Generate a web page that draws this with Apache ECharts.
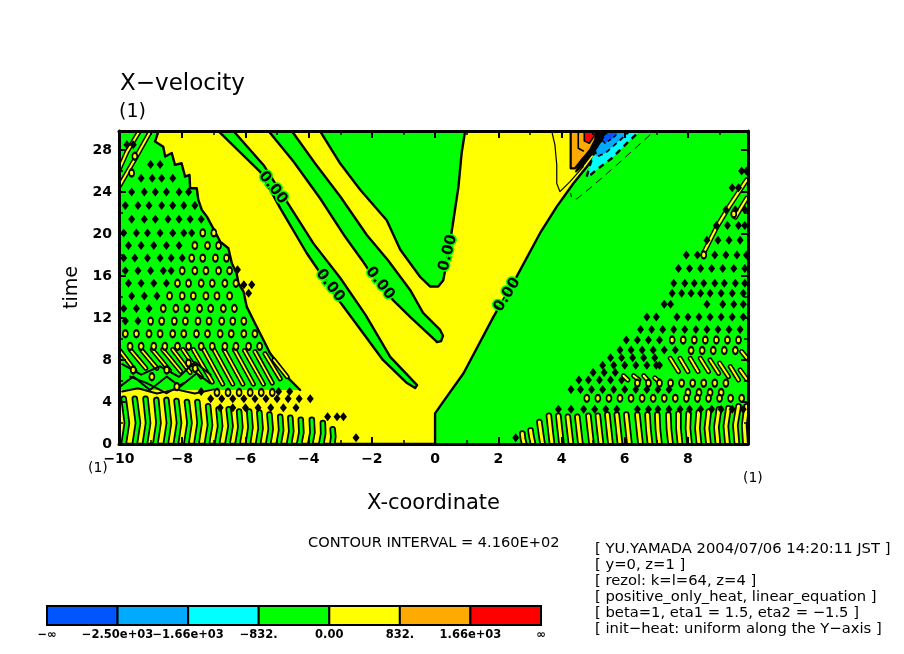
<!DOCTYPE html>
<html><head><meta charset="utf-8"><style>html,body{margin:0;padding:0;background:#fff}#c{width:904px;height:654px}</style>
<script src="https://cdn.jsdelivr.net/npm/echarts@6/dist/echarts.min.js"></script></head><body><div id="c"></div><script>
const XMIN=-10,XMAX=9.9,YMIN=0,YMAX=29.8;
const plotArea=[[XMIN,YMIN],[XMAX,YMIN],[XMAX,YMAX],[XMIN,YMAX]];
const yellowMain=[[-10,0],[0,0],[0,2.92],[.26,4.03],[.9,6.73],[1.85,12.13],[2.58,15.94],[3.32,20.07],[3.85,22.6],[4.38,24.83],[4.8,26.4],[5.1,27.6],[5.3,29.8],[-10,29.8]];
const centerPatch=[[.95,29.8],[.84,27.7],[.74,24.5],[.58,21.3],[.42,18.2],[.26,15.6],[.1,15],[-.16,15],[-.47,15.9],[-1.1,18.5],[-1.53,21.3],[-2.37,24.2],[-3,26.7],[-3.64,29.8]];
const band2=[[-4.53,29.8],[-3.8,26.73],[-3,23.56],[-2.16,19.9],[-1.49,17.5],[-.79,14.67],[-.38,12.48],[.16,10.86],[.25,10.3],[.19,9.8],[.06,9.7],[0,9.9],[-.79,12.1],[-1.33,13.7],[-2,16.1],[-2.31,17.5],[-2.85,19.75],[-3.64,23.4],[-4.48,26.9],[-5.27,29.8]];
const band1=[[-6.38,29.8],[-5.43,26.57],[-4.69,23.08],[-3.85,19.1],[-3,15.8],[-2.2,12.3],[-1.42,8.3],[-.57,5.6],[-.63,5.33],[-.89,5.8],[-1.65,8],[-2.28,10.57],[-3,13.5],[-4.06,18.16],[-4.9,22.45],[-5.54,25.94],[-6.86,29.8]];
const triangleEdge=[[-8.75,29.8],[-8.86,28.8],[-8.6,28.3],[-8.54,27.37],[-8.33,27.7],[-8.23,26.57],[-8.02,26.73],[-7.91,25.46],[-7.77,25.62],[-7.75,24.35],[-7.54,24.35],[-7.49,23.24],[-7.38,22.29],[-7.22,21.65],[-6.96,20.2],[-6.8,19.27],[-6.54,18.64],[-6.43,17.2],[-6.28,16.26],[-6.22,15.3],[-6.06,14.5],[-5.96,13.08],[-5.7,11.5],[-5.43,9.9],[-5.22,8.64],[-4.9,7.37],[-4.59,6.1],[-4.27,5.14]];
const triangleClose=[[-10,5.14],[-10,29.8]];
const orangeRegion=[[4.29,29.8],[4.29,26.25],[4.43,26.25],[4.64,27.05],[4.9,27.84],[5.09,28.8],[5.17,29.8]];
const redRegion=[[4.72,29.8],[4.72,28.86],[4.88,28.63],[5.06,29.43],[5.09,29.8]];
const cyanRegion=[[4.8,25.46],[4.9,26.57],[5.06,28],[5.48,29.8],[6.48,29.8],[6.12,28.79],[5.59,27.2],[5.17,26.25],[4.85,25.46]];
const midBlueRegion=[[5.06,28],[5.27,28.95],[5.48,29.8],[6.17,29.8],[5.8,28.79],[5.38,27.68],[5.11,27.36]];
const blueRegion=[[5.27,28.95],[5.48,29.8],[5.85,29.8],[5.64,29.17],[5.38,28.63]];
const blackKnot=[[5.11,29.8],[5.38,29.8],[5.27,28.95],[5.06,28],[4.69,26.57],[4.46,25.94],[4.64,27.05],[4.9,28],[5.06,28.95]];
const orangeInnerLine=[[4.53,29.8],[4.53,28.16],[4.69,27.9]];
const thinYellowContour=[[3.69,29.8],[3.79,28.5],[3.85,26.57],[3.85,24.8],[3.95,24.03],[4.27,24.98],[4.69,26.41]];
const thinDashedContour=[[6.8,29.43],[5.75,26.57],[4.9,24.35],[4.48,23.33],[4.32,23.4],[4.29,23.87]];
const bottomLeftStripes=[
[[-9.85,0],[-9.75,2],[-9.85,4.3]],[[-9.5,0],[-9.4,2],[-9.5,4.3]],[[-9.18,0],[-9.08,2],[-9.16,4.3]],[[-8.85,0],[-8.75,2],[-8.82,4.2]],[[-8.52,0],[-8.42,2],[-8.5,4.2]],[[-8.2,0],[-8.1,2],[-8.18,4.1]],[[-7.87,0],[-7.77,2],[-7.85,4]],[[-7.55,0],[-7.45,2],[-7.52,4]],[[-7.22,0],[-7.12,1.8],[-7.18,3.6]],[[-6.9,0],[-6.8,1.7],[-6.85,3.3]],[[-6.57,0],[-6.47,1.7],[-6.53,3.3]],[[-6.25,0],[-6.16,1.6],[-6.2,3.1]],[[-5.92,0],[-5.84,1.6],[-5.88,3.1]],[[-5.6,0],[-5.52,1.5],[-5.56,3]],[[-5.28,0],[-5.2,1.4],[-5.24,2.8]],[[-4.95,0],[-4.87,1.3],[-4.9,2.6]],[[-4.62,0],[-4.55,1.2],[-4.58,2.5]],[[-4.3,0],[-4.23,1.1],[-4.25,2.3]],[[-3.95,0],[-3.88,1.1],[-3.9,2.3]],[[-3.6,0],[-3.54,1],[-3.55,2]],[[-3.25,0],[-3.22,.7],[-3.24,1.4]]];
const bottomRightStripes=[
[[2.82,0],[2.78,.5],[2.76,1]],[[3.1,0],[3.05,.7],[3.02,1.3]],[[3.4,0],[3.35,1],[3.3,2.1]],[[3.7,0],[3.65,1.3],[3.6,2.7]],[[4,0],[3.95,1.3],[3.9,2.7]],[[4.3,0],[4.25,1.3],[4.2,2.6]],[[4.6,0],[4.55,1.3],[4.5,2.6]],[[4.95,0],[4.9,1.3],[4.85,2.7]],[[5.25,0],[5.2,1.3],[5.15,2.7]],[[5.55,0],[5.5,1.4],[5.45,2.8]],[[5.85,0],[5.8,1.4],[5.75,2.8]],[[6.15,0],[6.1,1.4],[6.05,2.8]],[[6.5,0],[6.45,1.4],[6.4,2.8]],[[6.8,0],[6.75,1.4],[6.72,2.8]],[[7.1,0],[7.05,1.4],[7.03,2.8]],[[7.45,0],[7.4,1.4],[7.38,2.8]],[[7.75,0],[7.7,1.5],[7.7,2.9]],[[8.05,0],[8,1.5],[8.02,2.9]],[[8.35,0],[8.3,1.5],[8.34,3]],[[8.65,0],[8.6,1.5],[8.66,3.1]],[[8.95,0],[8.9,1.6],[8.98,3.3]],[[9.25,0],[9.2,1.7],[9.28,3.4]],[[9.55,0],[9.5,1.8],[9.6,3.6]],[[9.82,0],[9.78,1.8],[9.86,3.6]]];
const leftDiagStripes=[
[[-10,9],[-9.5,7]],[[-9.65,9],[-9.15,7.2]],[[-9.3,9],[-8.8,7.2]],[[-8.95,9],[-8.4,7]],[[-8.62,9],[-8.05,6.9]],[[-8.3,9],[-7.75,6.8]],[[-7.98,9],[-7.4,6.4]],[[-7.65,9],[-7.05,5.9]],[[-7.32,9],[-6.72,5.7]],[[-7,9],[-6.4,5.7]],[[-6.68,9],[-6.08,5.7]],[[-6.35,9],[-5.75,5.7]],[[-6.03,8.9],[-5.43,5.7]],[[-5.7,8.8],[-5.15,5.8]],[[-5.38,8.6],[-4.9,6.2]],[[-5.1,8],[-4.68,6.4]]];
const rightDiagLenses=[
[[7.44,8.16],[7.7,6.9]],[[7.75,8.16],[8,6.9]],[[8.07,8.16],[8.32,6.9]],[[8.39,8.16],[8.65,6.9]],[[8.7,8],[8.97,6.73]],[[9,7.7],[9.28,6.42]],[[9.34,7.37],[9.6,6.1]],[[9.65,7.05],[9.85,6.2]],[[5.96,6.5],[6.1,6.1]],[[6.28,6.5],[6.45,6.1]],[[6.6,6.5],[6.75,6]],[[6.95,6.3],[7.1,5.9]],[[9.7,8.8],[9.86,8.2]]];
const cornerStreaks=[[[-10,24.5],[-9.5,27.1],[-9,29.8]],[[-10,26.1],[-9.75,27.8],[-9.35,29.8]]];
const rightStreaks=[[[9.86,25.15],[9.3,22.6],[8.9,20.6],[8.49,18.16]],[[9.86,23.4],[9.5,21.6]]];
const scribbles=[[[-9.97,5.46],[-9.55,6.42],[-9.02,5.15],[-8.49,6.42],[-8.07,5.46],[-7.54,6.73],[-7.12,5.8]],[[-9.65,6.42],[-9.12,5.8],[-8.49,4.83],[-7.96,5.8]],[[-9.9,7.6],[-9.3,6.6],[-8.7,7.4],[-8.1,6.4],[-7.6,7.8],[-7.1,6.6]],[[-9.9,5],[-9.4,5.3],[-8.8,4.8],[-8.2,5.2],[-7.6,4.8],[-7,5.2]]];
const ringRows=[
[9.3,[-9.65,-9.3,-8.9,-8.55,-8.15,-7.8,-7.4,-7.05,-6.65,-6.3,-5.9,-5.55]],
[10.5,[-9.8,-9.45,-9.05,-8.7,-8.3,-7.95,-7.55,-7.2,-6.8,-6.45,-6.05,-5.7]],
[11.7,[-9,-8.65,-8.25,-7.9,-7.5,-7.15,-6.75,-6.4,-6.05]],
[12.9,[-8.6,-8.2,-7.85,-7.45,-7.1,-6.7,-6.35]],
[14.1,[-8.4,-8,-7.65,-7.25,-6.9,-6.5]],
[15.3,[-8.15,-7.8,-7.4,-7.05,-6.65,-6.3]],
[16.5,[-8,-7.6,-7.25,-6.85,-6.5]],
[17.7,[-7.7,-7.35,-6.95,-6.6]],
[18.9,[-7.6,-7.2,-6.85]],
[20.1,[-7.35,-7]],
[25.8,[-9.6]],[27.4,[-9.5]],
[7.05,[-9.55,-8.49]],[6.4,[-8.96]],[7.7,[-7.8]],[7.2,[-7.59]],[5.46,[-8.17]],
[4.9,[-6.9,-6.55,-6.2,-5.85,-5.5,-5.15,8.0,8.35,8.7,9.05]],
[4.35,[4.8,5.15,5.5,5.85,6.2,6.55,6.9,7.25,7.6,7.95,8.3,8.65,9,9.35,9.7]],
[5.8,[6.4,6.75,7.1,7.45,7.8,8.15,8.5,8.85,9.2]],
[9.9,[7.5,7.85,8.2,8.55,8.9,9.25,9.6]],
[8.9,[8.1,8.45,8.8,9.15,9.5]],
[18,[8.5]],[21.9,[9.45]]];
const solidRows=[
[11.7,[-9.8,-9.4]],[12.9,[-9.85,-9.45,-9.05]],[14.1,[-9.6,-9.2,-8.8]],[15.3,[-9.7,-9.3,-8.9,-8.5]],[14.35,[-5.9]],[15.15,[-6.05,-5.8]],[16.6,[-6.25]],
[16.5,[-9.8,-9.4,-9,-8.6,-8.35]],[17.7,[-9.85,-9.5,-9.1,-8.7,-8.35,-8]],[18.9,[-9.7,-9.3,-8.9,-8.5,-8.1]],[20.1,[-9.85,-9.45,-9.1,-8.7,-8.3,-7.95,-7.7]],[21.4,[-9.6,-9.2,-8.85,-8.45,-8.1,-7.75,-7.4]],[22.7,[-9.8,-9.4,-9.05,-8.65,-8.3,-7.95,-7.6]],[24,[-9.6,-9.2,-8.85,-8.5,-8.1,-7.8]],[25.3,[-9.3,-8.95,-8.65,-8.3]],[26.6,[-9,-8.7]],[28.5,[-9.75,-9.55]],
[5,[-7.4,-4.6,-4.95]],[4.3,[-7.1,-6.75,-6.4,-6.05,-5.7,-5.35,-5,-4.65,-4.3,-3.95]],[3.45,[-6.8,-6.4,-6,-5.6,-5.2,-4.8,-4.4]],[2.6,[-3.4,-3.1,-2.9]],[.6,[-2.5,2.55]],
[3.3,[6.4,6.75,7.05,7.4,7.75,8.05,8.4,8.75,9.05,9.4,9.75,3.9,4.3,4.7,5.05,5.4,5.75]],
[5.2,[4.3,4.6,4.95,5.3,5.65,6,6.35,6.7,7.05,7.4]],[6.1,[4.55,4.85,5.2,5.55,5.9]],[6.8,[5.0,5.35,5.7]],[7.5,[5.3,5.65,6,6.35,6.7,7,7.1]],[8.2,[5.55,5.9,6.25,6.6,6.95]],
[8.95,[5.85,6.2,6.55,6.9,7.25,7.6]],[9.9,[6.05,6.4,6.75,7.1]],[10.9,[6.5,6.85,7.2,7.55,7.9,8.25,8.6,8.95,9.3,9.65]],[12.1,[6.7,7,7.65,8,8.35,8.7,9.05,9.4,9.75]],[13.3,[7.25,7.45,8.6,9.1,9.45,9.75]],[14.35,[7.5,7.8,8.1,8.4,8.7,9.05,9.4,9.75]],[15.3,[7.55,7.9,8.2,8.5,8.85,9.15,9.5,9.8]],[16.7,[7.7,8.05,8.4,8.75,9.1,9.45,9.8]],[18,[7.95,8.3,8.85,9.2,9.55,9.85]],[19.4,[8.6,8.95,9.3,9.65]],[20.8,[8.9,9.25,9.6,9.8]],[22.3,[9.2,9.5,9.8]],[24.4,[9.4,9.6]],[26,[9.7,9.85]]];
const contourLabels=[[-5.13,24.4,-52],[-3.32,15.1,-52],[-1.74,15.3,-52],[.41,18.2,76],[2.28,14.2,58]];
const contourLabelText="0.00";
const colorbarColors=["#0055ff","#00aaff","#00ffff","#00ff00","#ffff00","#ffaa00","#ff0000"];
const colorbarLabels=["−∞","−2.50e+03","−1.66e+03","−832.","0.00","832.","1.66e+03","∞"];
const infoLines=["[ YU.YAMADA 2004/07/06 14:20:11 JST ]","[ y=0, z=1 ]","[ rezol: k=l=64, z=4 ]","[ positive_only_heat, linear_equation ]","[ beta=1, eta1 = 1.5, eta2 = −1.5 ]","[ init−heat: uniform along the Y−axis ]"];
const FONT='"DejaVu Sans"';
function fillS(regions,fill,stroke,lw,dash){return{type:'custom',coordinateSystem:'cartesian2d',clip:true,silent:true,data:regions.map((_,i)=>[i]),
 renderItem(p,api){return{type:'polygon',shape:{points:regions[p.dataIndex].map(q=>api.coord(q))},style:{fill,stroke:stroke||null,lineWidth:lw||0,lineDash:dash||null,lineJoin:'round'}};}};}
function lineS(lines,stroke,lw,dash,cap){return{type:'custom',coordinateSystem:'cartesian2d',clip:true,silent:true,data:lines.map((_,i)=>[i]),
 renderItem(p,api){return{type:'polyline',shape:{points:lines[p.dataIndex].map(q=>api.coord(q))},style:{fill:null,stroke,lineWidth:lw,lineDash:dash||null,lineCap:cap||'round',lineJoin:'round'}};}};}
function rows(r){const o=[];r.forEach(([y,xs])=>xs.forEach(x=>o.push([x,y])));return o;}
const chart=echarts.init(document.getElementById('c'),null,{renderer:'canvas'});
const axisCommon={axisLine:{onZero:false,lineStyle:{color:'#000',width:3}},axisTick:{inside:true,length:7,lineStyle:{color:'#000',width:2}},minorTick:{show:true,splitNumber:2,length:4,lineStyle:{color:'#000',width:1.5}},splitLine:{show:false},minorSplitLine:{show:false},z:10};
const labelStyle={color:'#000',fontFamily:FONT,fontSize:14,fontWeight:'bold'};
const series=[
 fillS([plotArea],'#00ff00'),
 fillS([yellowMain],'#ffff00','#000',2.4),
 fillS([centerPatch,band2,band1],'#00ff00','#000',2.4),
 fillS([triangleEdge.concat(triangleClose)],'#00ff00'),
 lineS([triangleEdge],'#000',2.4),
 lineS([thinYellowContour],'#000',1.2),
 fillS([orangeRegion],'#ffaa00','#000',2.2),
 lineS([orangeInnerLine],'#000',1.6),
 fillS([redRegion],'#ff0000','#000',1.6),
 fillS([cyanRegion],'#00ffff','#000',2.4,[6,5]),
 fillS([midBlueRegion],'#00aaff','#000',1.8,[5,4]),
 fillS([blueRegion],'#0055ff','#000',1.5,[4,3]),
 fillS([blackKnot],'#000','#000',2),
 lineS([thinDashedContour],'#000',1,[7,6]),
 lineS(bottomLeftStripes,'#000',6.5),
 lineS(bottomLeftStripes,'#00ff00',3),
 lineS(bottomRightStripes,'#000',6.5),
 lineS(bottomRightStripes,'#ffff00',3),
 lineS(leftDiagStripes,'#000',5),
 lineS(leftDiagStripes,'#ffff00',1.8),
 lineS(rightDiagLenses,'#000',5),
 lineS(rightDiagLenses,'#ffff00',2),
 lineS(cornerStreaks,'#000',5),
 lineS(cornerStreaks,'#ffff00',2),
 lineS(rightStreaks,'#000',5),
 lineS(rightStreaks,'#ffff00',2.2),
 lineS(scribbles,'#000',2),
 {type:'scatter',silent:true,symbol:'diamond',symbolSize:[7,9],data:rows(solidRows),itemStyle:{color:'#000',opacity:1}},
 {type:'scatter',silent:true,symbol:'circle',symbolSize:[5,7],data:rows(ringRows),itemStyle:{color:'#ffff00',borderColor:'#000',borderWidth:2,opacity:1}},
 {type:'custom',coordinateSystem:'cartesian2d',silent:true,data:contourLabels.map((_,i)=>[i]),renderItem(p,api){const l=contourLabels[p.dataIndex],c=api.coord([l[0],l[1]]);
   return{type:'text',x:c[0],y:c[1],rotation:l[2]*Math.PI/180,style:{text:contourLabelText,font:'bold 15px '+FONT,fill:'#000',stroke:'#00ff00',lineWidth:3,strokeFirst:true,align:'center',verticalAlign:'middle'}};}},
 {type:'custom',coordinateSystem:'cartesian2d',xAxisIndex:2,yAxisIndex:2,silent:true,data:colorbarColors.map((_,i)=>[i]),renderItem(p,api){const a=api.coord([p.dataIndex,1]),b=api.coord([p.dataIndex+1,0]);
   return{type:'rect',shape:{x:a[0],y:a[1],width:b[0]-a[0],height:b[1]-a[1]},style:{fill:colorbarColors[p.dataIndex],stroke:'#000',lineWidth:2}};}}
];
const text=(t,x,y,size,extra)=>Object.assign({type:'text',x,y,style:{text:t,font:size+'px '+FONT,fill:'#000'}},extra||{});
chart.setOption({animation:false,backgroundColor:'#fff',
 title:{text:'X−velocity',left:115,top:68,textStyle:{fontFamily:FONT,fontSize:23,fontWeight:'normal',color:'#000'}},
 grid:[{left:119,top:131,width:629,height:313},{left:47,top:606,width:494,height:19}],
 xAxis:[
  Object.assign({},axisCommon,{type:'value',gridIndex:0,min:XMIN,max:XMAX,interval:2,position:'bottom',name:'X-coordinate',nameLocation:'middle',nameGap:49,nameTextStyle:{fontFamily:FONT,fontSize:21,color:'#000'},axisLabel:Object.assign({},labelStyle,{margin:8,showMaxLabel:false,formatter:v=>String(v).replace('-','−')})}),
  Object.assign({},axisCommon,{type:'value',gridIndex:0,min:XMIN,max:XMAX,interval:2,position:'top',axisLabel:{show:false}}),
  {type:'value',gridIndex:1,min:0,max:7,interval:1,axisLine:{show:false},axisTick:{show:false},splitLine:{show:false},axisLabel:{color:'#000',fontFamily:FONT,fontSize:11.5,fontWeight:'bold',margin:4,formatter:v=>colorbarLabels[v]}}],
 yAxis:[
  Object.assign({},axisCommon,{type:'value',gridIndex:0,min:YMIN,max:YMAX,interval:4,position:'left',name:'time',nameLocation:'middle',nameGap:36,nameTextStyle:{fontFamily:FONT,fontSize:19,color:'#000'},axisLabel:Object.assign({},labelStyle,{margin:7,showMaxLabel:false})}),
  Object.assign({},axisCommon,{type:'value',gridIndex:0,min:YMIN,max:YMAX,interval:4,position:'right',axisLabel:{show:false}}),
  {type:'value',gridIndex:1,min:0,max:1,show:false}],
 series:series.map(s=>Object.assign({xAxisIndex:0,yAxisIndex:0},s)),
 graphic:[
  text('(1)',119,103,19),text('(1)',88,461,14),text('(1)',743,471,14),
  text('CONTOUR INTERVAL = 4.160E+02',308,536,14.6)
 ].concat(infoLines.map((t,i)=>text(t,595,542+i*15.9,14.75)))
});
</script></body></html>
